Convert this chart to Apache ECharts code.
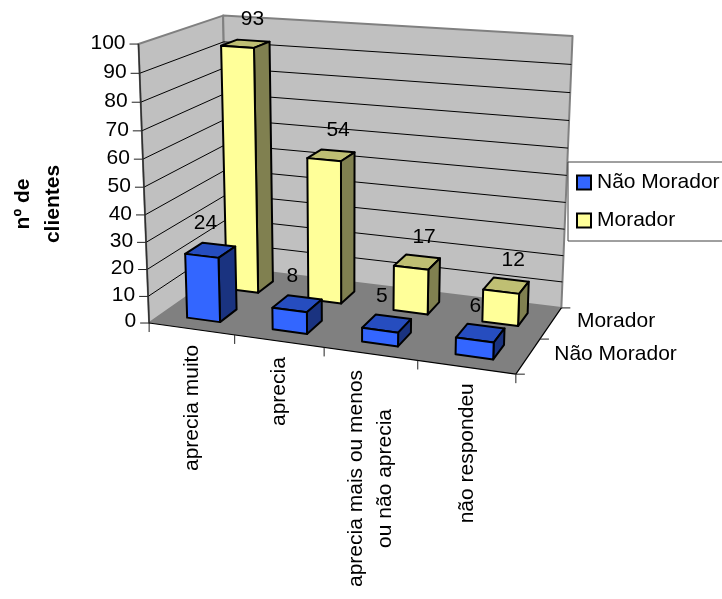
<!DOCTYPE html>
<html>
<head>
<meta charset="utf-8">
<style>html,body{margin:0;padding:0;background:#fff}#chart{width:722px;height:599px}</style>
<script src="https://cdn.jsdelivr.net/npm/echarts@6/dist/echarts.min.js"></script>
</head>
<body>
<div id="chart"></div>
<script>
// Clients by appreciation level, split into residents and non-residents.
const categories = ['aprecia muito', 'aprecia', 'aprecia mais ou menos\nou não aprecia', 'não respondeu'];
const depthLabels = ['Não Morador', 'Morador'];
const naoMorador = [24, 8, 5, 6];
const morador = [93, 54, 17, 12];
const valueTicks = [0, 10, 20, 30, 40, 50, 60, 70, 80, 90, 100];
const yTitle = 'nº de\nclientes';

const FONT = '"Liberation Sans", Arial, sans-serif';
const SIZE = 21;
const W = 722, H = 599;

// Camera calibration: box coordinates (across, depth, height) -> screen.
const calibration = [
  [0, 0, 0, 149, 323.3], [1, 0, 0, 516, 374], [0, 1, 0, 229, 267], [1, 1, 0, 562, 307],
  [0, 0, 1, 139, 43.3], [0, 1, 1, 222.5, 16], [1, 1, 1, 572.5, 36],
  [.25, 0, 0, 234.3, 335], [.5, 0, 0, 324.3, 347.4], [.75, 0, 0, 417.7, 360.3],
  [0, 0, .5, 144.2, 187.5], [1, 1, .5, 567, 175.7], [1, .5, 0, 539, 340]
];

function solve(A, b) {
  const n = b.length, M = A.map((r, i) => r.concat(b[i]));
  for (let c = 0; c < n; c++) {
    let p = c;
    for (let r = c + 1; r < n; r++) if (Math.abs(M[r][c]) > Math.abs(M[p][c])) p = r;
    [M[c], M[p]] = [M[p], M[c]];
    for (let r = 0; r < n; r++) {
      if (r === c) continue;
      const f = M[r][c] / M[c][c];
      for (let k = c; k <= n; k++) M[r][k] -= f * M[c][k];
    }
  }
  return M.map((r, i) => r[n] / r[i]);
}

function fitCamera(points) {
  const rows = [], rhs = [];
  points.forEach(([X, Y, Z, x, y]) => {
    const sx = x / 100, sy = y / 100;
    rows.push([X, Y, Z, 1, 0, 0, 0, 0, -sx * X, -sx * Y, -sx * Z]); rhs.push(sx);
    rows.push([0, 0, 0, 0, X, Y, Z, 1, -sy * X, -sy * Y, -sy * Z]); rhs.push(sy);
  });
  const ata = [], atb = [];
  for (let i = 0; i < 11; i++) {
    ata.push([]);
    atb.push(rows.reduce((s, r, k) => s + r[i] * rhs[k], 0));
    for (let j = 0; j < 11; j++) ata[i].push(rows.reduce((s, r) => s + r[i] * r[j], 0));
  }
  return solve(ata, atb);
}

const cam = fitCamera(calibration);
function project(u, v, h) {
  const d = cam[8] * u + cam[9] * v + cam[10] * h + 1;
  return [
    100 * (cam[0] * u + cam[1] * v + cam[2] * h + cam[3]) / d,
    100 * (cam[4] * u + cam[5] * v + cam[6] * h + cam[7]) / d
  ];
}

// The hidden cartesian grid spans the page, so its scales give normalised box coordinates.
const toBox = (pt) => [pt[0] / W, (H - pt[1]) / H];

const measure = document.createElement('canvas').getContext('2d');
function textWidth(line) {
  measure.font = SIZE + 'px ' + FONT;
  return measure.measureText(line).width;
}

const poly = (points, fill, stroke, lineWidth) => ({
  type: 'polygon',
  shape: { points },
  style: { fill, stroke: stroke || null, lineWidth: lineWidth || 0, lineJoin: 'round' }
});
const seg = (a, b, stroke, lineWidth) => ({
  type: 'line',
  shape: { x1: a[0], y1: a[1], x2: b[0], y2: b[1] },
  style: { stroke, lineWidth: lineWidth || 1 }
});
const label = (text, x, y, extra) => ({
  type: 'text', x, y,
  style: Object.assign({ text, font: SIZE + 'px ' + FONT, fill: '#000', textAlign: 'center', textVerticalAlign: 'middle', lineHeight: 29.3 }, extra && extra.style),
  rotation: extra && extra.rotation || 0
});

function renderFrame(params, api) {
  const kids = [];
  const hOf = (t) => toBox(api.coord([0, t]))[1];
  // walls and floor
  kids.push(poly([project(0, 0, 1), project(0, 1, 1), project(0, 1, 0), project(0, 0, 0)], '#c0c0c0', '#808080', 2));
  kids.push(poly([project(0, 1, 1), project(1, 1, 1), project(1, 1, 0), project(0, 1, 0)], '#c0c0c0', '#808080', 2));
  kids.push(poly([project(0, 0, 0), project(1, 0, 0), project(1, 1, 0), project(0, 1, 0)], '#808080'));
  // gridlines and value axis
  valueTicks.forEach((t) => {
    const h = hOf(t), a = project(0, 0, h), b = project(0, 1, h), c = project(1, 1, h);
    if (t > 0 && t < 100) {
      kids.push(seg(a, b, '#000'), seg(b, c, '#000'));
    }
    kids.push(seg([a[0] - 9, a[1]], a, '#222'));
    kids.push(label(String(t), a[0] - 13, a[1] - 0.5 - (100 - t) / 100, { style: { textAlign: 'right' } }));
  });
  kids.push(seg(project(0, 0, 0), project(0, 0, 1), '#303030', 1.5));
  // category axis along the front floor edge
  kids.push(seg(project(0, 0, 0), project(1, 0, 0), '#000', 1.2));
  categories.forEach((name, i) => {
    const c = api.coord([i, 0]), half = api.size([1, 0])[0] / 2;
    const left = project(toBox([c[0] - half, 0])[0], 0, 0);
    const right = project(toBox([c[0] + half, 0])[0], 0, 0);
    kids.push(seg(left, [left[0], left[1] + 9], '#222'));
    if (i === categories.length - 1) kids.push(seg(right, [right[0], right[1] + 9], '#222'));
    const mid = project(toBox(c)[0], 0, 0);
    // rotated text: the lines are centred on each other, the longest one starts under the floor edge
    const longest = Math.max.apply(null, name.split('\n').map(textWidth));
    kids.push(label(name, mid[0] + 0.5, mid[1] + 16 + longest / 2, { rotation: Math.PI / 2 }));
  });
  // depth axis along the right floor edge
  kids.push(seg(project(1, 0, 0), project(1, 1, 0), '#000', 1.2));
  [0, .5, 1].forEach((v) => {
    const p = project(1, v, 0);
    kids.push(seg(p, [p[0] + 9, p[1]], '#222'));
  });
  depthLabels.forEach((name, i) => {
    const p = project(1, (i + .5) / depthLabels.length, 0);
    kids.push(label(name, p[0] + 26, p[1] - 2, { style: { textAlign: 'left' } }));
  });
  return { type: 'group', children: kids };
}

const barWidth = 0.39;   // share of a category band
const barDepth = 0.42;   // share of a series lane

function barRenderer(lane, colors, labelShift) {
  return function (params, api) {
    const i = api.value(0), val = api.value(1);
    const top = api.coord([i, val]), base = api.coord([i, 0]);
    const half = api.size([1, 0])[0] * barWidth / 2;
    const u0 = toBox([top[0] - half, 0])[0], u1 = toBox([top[0] + half, 0])[0];
    const h = toBox(top)[1], h0 = toBox(base)[1];
    const vc = (lane + .5) / depthLabels.length, dv = barDepth / depthLabels.length;
    const v0 = vc - dv / 2, v1 = vc + dv / 2;
    const A = project(u0, v0, h0), B = project(u1, v0, h0), C = project(u1, v1, h0);
    const D = project(u0, v0, h), E = project(u1, v0, h), F = project(u1, v1, h), G = project(u0, v1, h);
    const ln = 2;
    const cx = project((u0 + u1) / 2, vc, h);
    return {
      type: 'group',
      children: [
        poly([D, E, F, G], colors[1], '#000', ln),
        poly([B, C, F, E], colors[2], '#000', ln),
        poly([A, B, E, D], colors[0], '#000', ln),
        label(String(val), cx[0] + labelShift[0], cx[1] + labelShift[1], {})
      ]
    };
  };
}

const pairs = (vals) => vals.map((v, i) => [i, v]);

const chart = echarts.init(document.getElementById('chart'), null, { width: W, height: H });
chart.setOption({
  animation: false,
  backgroundColor: '#fff',
  grid: { left: 0, top: 0, width: W, height: H },
  xAxis: { type: 'category', data: categories, show: false },
  yAxis: { type: 'value', min: 0, max: 100, interval: 10, show: false },
  legend: {
    left: 568, top: 162, orient: 'vertical',
    data: ['Não Morador', 'Morador'],
    icon: 'rect', itemWidth: 14, itemHeight: 14, itemGap: 17,
    padding: [10, 6, 10, 8], backgroundColor: '#fff',
    borderColor: '#404040', borderWidth: 1, borderRadius: 0,
    selectedMode: false,
    textStyle: { fontFamily: FONT, fontSize: SIZE, color: '#000', padding: [0, 0, 0, 1] }
  },
  graphic: [{
    type: 'text', x: 38, y: 204, rotation: Math.PI / 2,
    style: { text: yTitle, font: 'bold 21px ' + FONT, fill: '#000', textAlign: 'center', textVerticalAlign: 'middle', lineHeight: 30 }
  }],
  series: [
    { type: 'custom', silent: true, clip: false, data: [[0, 0]], renderItem: renderFrame, encode: { x: 0, y: 1 }, z: 1 },
    {
      name: 'Morador', type: 'custom', silent: true, data: pairs(morador), encode: { x: 0, y: 1 }, z: 2,
      itemStyle: { color: '#ffff99', borderColor: '#000', borderWidth: 1.5 },
      renderItem: barRenderer(1, ['#ffff99', '#bfbf73', '#808050'], [7, -25])
    },
    {
      name: 'Não Morador', type: 'custom', silent: true, data: pairs(naoMorador), encode: { x: 0, y: 1 }, z: 3,
      itemStyle: { color: '#3366ff', borderColor: '#000', borderWidth: 1.5 },
      renderItem: barRenderer(0, ['#3366ff', '#264dbf', '#1a3380'], [-5, -27])
    }
  ]
});
</script>
</body>
</html>
